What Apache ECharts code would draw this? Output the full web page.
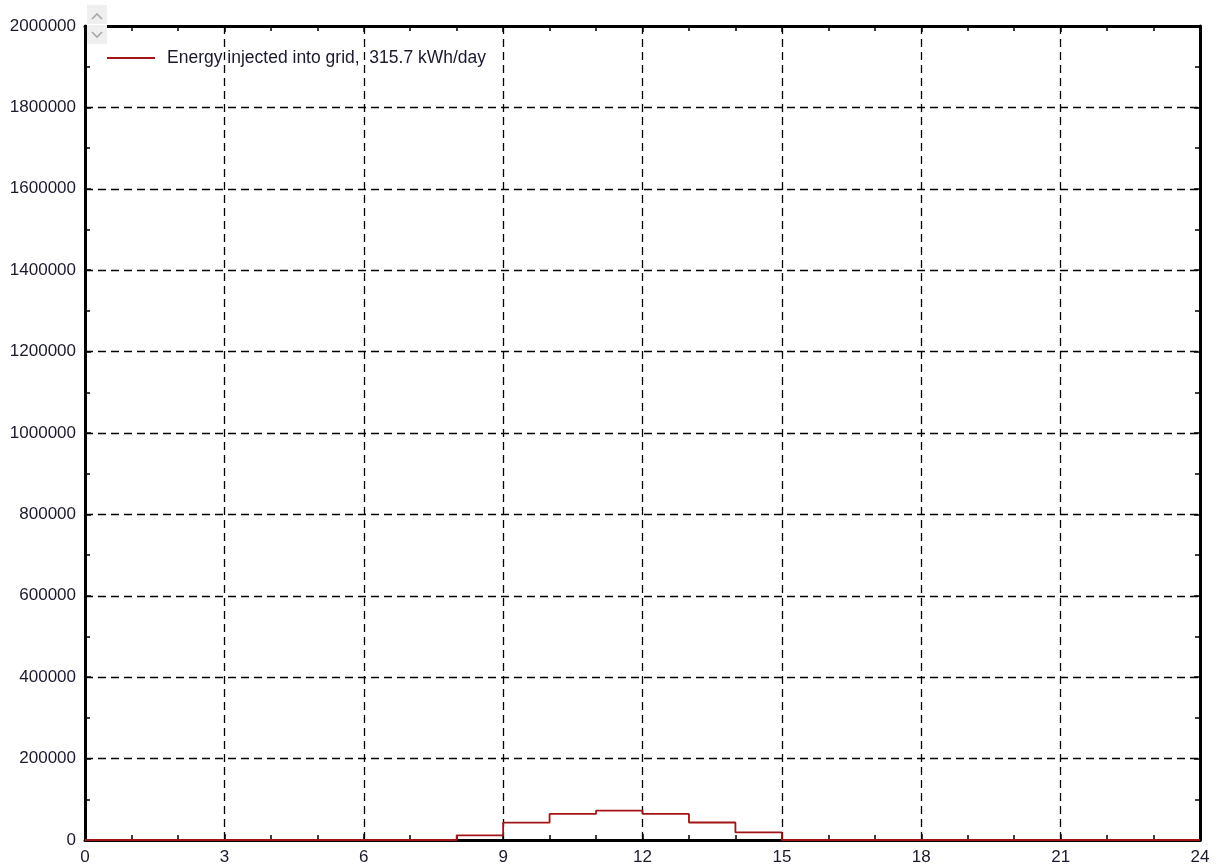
<!DOCTYPE html>
<html>
<head>
<meta charset="utf-8">
<script src="https://cdn.jsdelivr.net/npm/echarts@6/dist/echarts.min.js"></script>
<style>
  html, body { margin: 0; padding: 0; background: #ffffff; }
  #chart { width: 1222px; height: 867px; }
</style>
</head>
<body>
<div id="chart"></div>
<script>
// Hourly energy injected into the grid (Wh per hour), step value held for each hour
const hours = [0, 1, 2, 3, 4, 5, 6, 7, 8, 9, 10, 11, 12, 13, 14, 15, 16, 17, 18, 19, 20, 21, 22, 23, 24];
const injected = [0, 0, 0, 0, 0, 0, 0, 0, 11500, 42500, 64000, 72000, 64000, 43000, 18700, 0, 0, 0, 0, 0, 0, 0, 0, 0, 0];
const seriesName = 'Energy injected into grid,  315.7 kWh/day';
const xTicks = [0, 3, 6, 9, 12, 15, 18, 21, 24];
const yTicks = [0, 200000, 400000, 600000, 800000, 1000000, 1200000, 1400000, 1600000, 1800000, 2000000];

const FONT = 'Liberation Sans, Arial, sans-serif';
const FONT_SIZE = 17;
const LABEL_COLOR = '#1a1a2e';
const LINE_COLOR = '#a31515';

const chart = echarts.init(document.getElementById('chart'), null, { renderer: 'canvas' });

const frameLine = { show: true, onZero: false, lineStyle: { color: '#000', width: 3 } };
const inTick = { show: true, inside: true, length: 6, lineStyle: { color: '#000', width: 1.5 } };
const inMinor = { show: true, splitNumber: 3, length: 5, lineStyle: { color: '#000', width: 1.5 } };
const dashed = { show: true, lineStyle: { color: '#000', width: 1.3, type: [8, 5] } };

const xBase = { type: 'value', min: xTicks[0], max: xTicks[xTicks.length - 1], interval: 3 };
const yBase = { type: 'value', min: yTicks[0], max: yTicks[yTicks.length - 1], interval: 200000 };

chart.setOption({
  backgroundColor: '#ffffff',
  animation: false,
  grid: { left: 85, right: 22, top: 26, bottom: 27, containLabel: false },
  legend: {
    show: true,
    left: 107,
    top: 48,
    padding: 0,
    itemWidth: 48,
    itemHeight: 2,
    icon: 'rect',
    itemStyle: { color: LINE_COLOR },
    textStyle: { fontFamily: FONT, fontSize: 17.5, color: LABEL_COLOR, padding: [0, 0, 0, 7], lineHeight: 20 },
    data: [{ name: seriesName, icon: 'rect' }]
  },
  xAxis: [
    Object.assign({}, xBase, {
      position: 'bottom',
      axisLine: frameLine,
      axisTick: inTick,
      minorTick: inMinor,
      splitLine: dashed,
      axisLabel: {
        show: true, margin: 9, fontFamily: FONT, fontSize: FONT_SIZE, color: LABEL_COLOR,
        formatter: v => xTicks.includes(v) ? String(v) : ''
      }
    }),
    Object.assign({}, xBase, {
      position: 'top',
      axisLine: frameLine,
      axisTick: inTick,
      minorTick: inMinor,
      splitLine: { show: false },
      axisLabel: { show: false }
    })
  ],
  yAxis: [
    Object.assign({}, yBase, {
      position: 'left',
      axisLine: frameLine,
      axisTick: inTick,
      minorTick: Object.assign({}, inMinor, { splitNumber: 2 }),
      splitLine: dashed,
      axisLabel: {
        show: true, margin: 9, fontFamily: FONT, fontSize: FONT_SIZE, color: LABEL_COLOR,
        padding: [2, 0, 0, 0],
        formatter: v => String(v)
      }
    }),
    Object.assign({}, yBase, {
      position: 'right',
      axisLine: frameLine,
      axisTick: inTick,
      minorTick: Object.assign({}, inMinor, { splitNumber: 2 }),
      splitLine: { show: false },
      axisLabel: { show: false }
    })
  ],
  series: [{
    name: seriesName,
    type: 'line',
    xAxisIndex: 0,
    yAxisIndex: 0,
    step: 'end',
    symbol: 'none',
    showSymbol: false,
    lineStyle: { color: LINE_COLOR, width: 1.8 },
    itemStyle: { color: LINE_COLOR },
    data: hours.map((h, i) => [h, injected[i]]),
    z: 3
  }],
  graphic: [
    // small scroll buttons at the top-left corner of the plot
    { type: 'rect', left: 87, top: 5, shape: { width: 20, height: 19 }, style: { fill: '#efefef' }, z: 10 },
    { type: 'rect', left: 87, top: 25, shape: { width: 20, height: 19 }, style: { fill: '#efefef' }, z: 10 },
    { type: 'polyline', shape: { points: [[92, 19], [97, 14], [102, 19]] }, style: { stroke: '#a8a8a8', lineWidth: 1.6, fill: null }, z: 11 },
    { type: 'polyline', shape: { points: [[92, 32], [97, 37], [102, 32]] }, style: { stroke: '#a8a8a8', lineWidth: 1.6, fill: null }, z: 11 }
  ]
});
</script>
</body>
</html>
